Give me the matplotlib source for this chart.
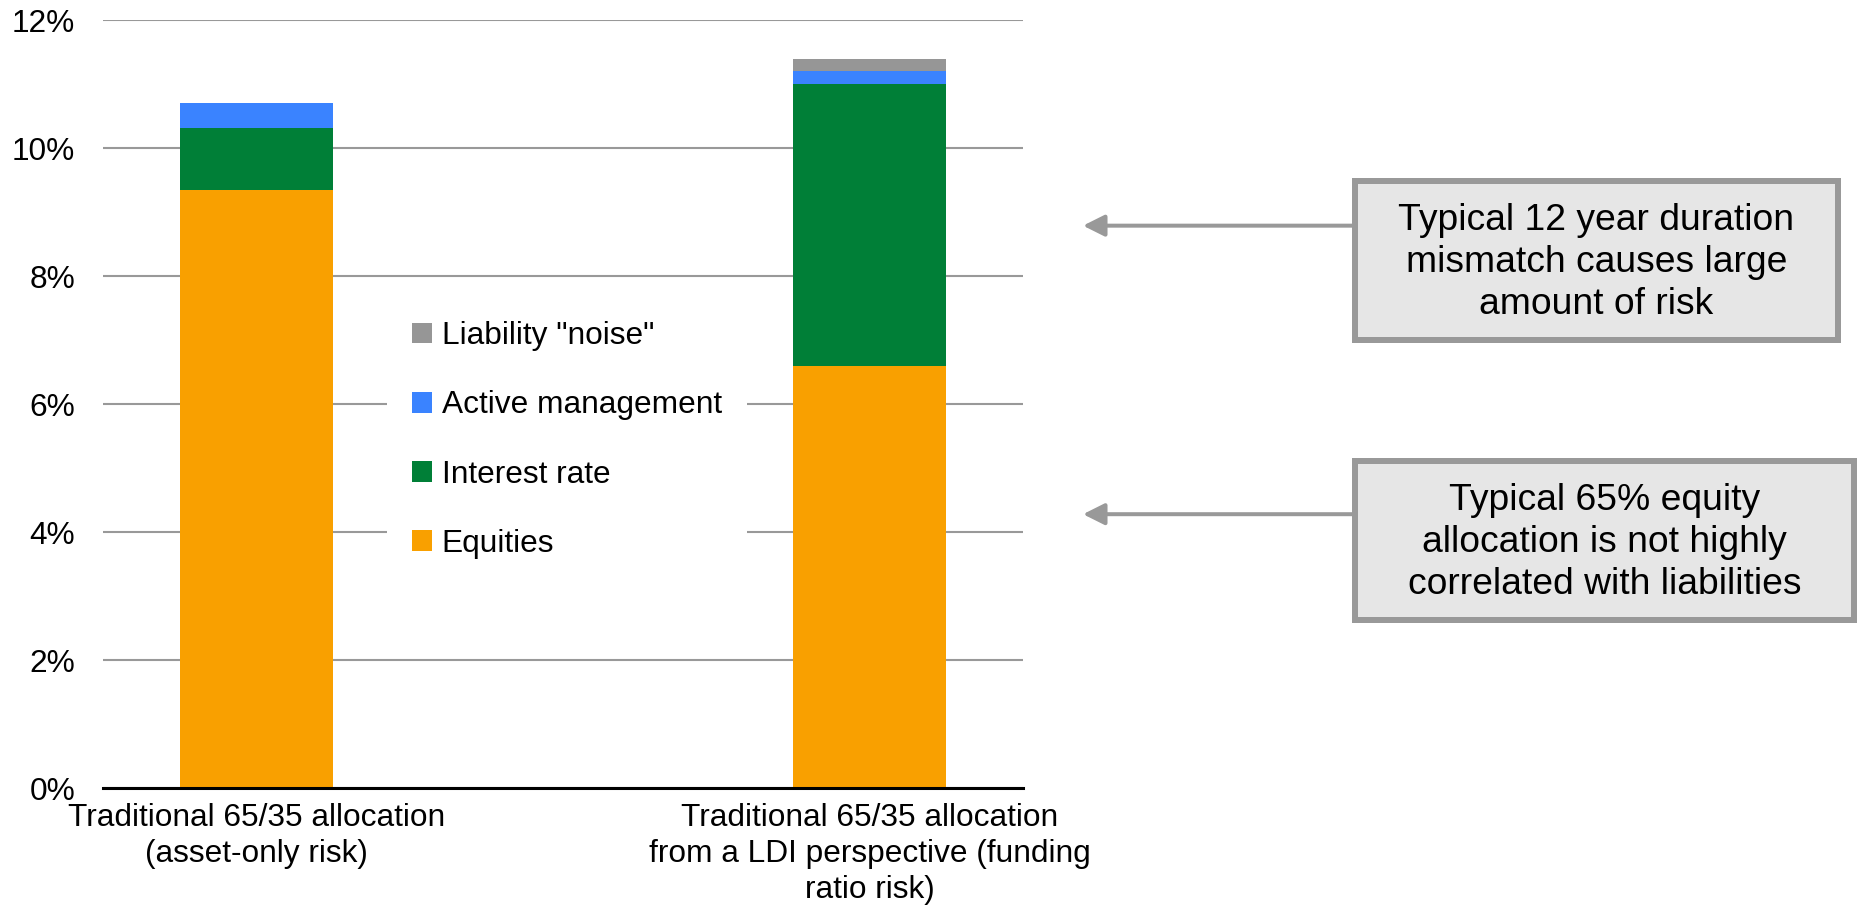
import matplotlib
matplotlib.use("Agg")
import matplotlib.pyplot as plt
from matplotlib.patches import Rectangle, FancyArrowPatch, ArrowStyle
import numpy as np

plt.rcParams['font.family'] = ['Liberation Sans', 'DejaVu Sans']

# ---- data -------------------------------------------------------------
categories = [
    "Traditional 65/35 allocation\n(asset-only risk)",
    "Traditional 65/35 allocation\nfrom a LDI perspective (funding\nratio risk)",
]
equities = [9.35, 6.60]
interest_rate = [0.97, 4.41]
active_management = [0.39, 0.19]
liability_noise = [0.00, 0.19]

series_names = ["Equities", "Interest rate", "Active management", 'Liability "noise"']
series_colors = ["#F9A000", "#007F37", "#3A83FF", "#969696"]

y_ticks = [0, 2, 4, 6, 8, 10, 12]
y_tick_labels = ["0%", "2%", "4%", "6%", "8%", "10%", "12%"]

notes = [
    "Typical 12 year duration\nmismatch causes large\namount of risk",
    "Typical 65% equity\nallocation is not highly\ncorrelated with liabilities",
]
note_targets = [8.79, 4.28]   # risk level (%) each note points at

# ---- figure -----------------------------------------------------------
W, H = 1861, 907
fig = plt.figure(figsize=(W / 100, H / 100), dpi=100)


def fx(px):
    return px / W


def fy(py):
    return 1 - py / H


ax = fig.add_axes([fx(103), fy(788), fx(1023) - fx(103), fy(20.3) - fy(788)])

x = np.arange(len(categories))
layers = [equities, interest_rate, active_management, liability_noise]
bottom = np.zeros(len(categories))
handles = []
for vals, name, col in zip(layers, series_names, series_colors):
    b = ax.bar(x, vals, width=0.25, bottom=bottom, color=col, label=name,
               zorder=3, linewidth=0)
    handles.append(b)
    bottom = bottom + np.array(vals)

ax.set_xlim(-0.25, 1.25)
ax.set_ylim(0, 12)
ax.set_yticks(y_ticks)
ax.set_yticklabels(y_tick_labels)
ax.set_xticks(x)
ax.set_xticklabels(categories, linespacing=1.26)

ax.grid(axis="y", color="#999999", linewidth=1.5, zorder=0)
ax.set_axisbelow(True)
for s in ["top", "right", "left"]:
    ax.spines[s].set_visible(False)
ax.spines["bottom"].set_color("black")
ax.spines["bottom"].set_linewidth(2.2)
ax.spines["bottom"].set_zorder(4)
ax.tick_params(axis="y", length=0, pad=20, labelsize=22.8, labelcolor="black")
ax.tick_params(axis="x", length=0, pad=11, labelsize=22.8, labelcolor="black")

leg = ax.legend(handles[::-1], series_names[::-1],
                loc="center left",
                bbox_to_anchor=(fx(387), fy(440)),
                bbox_transform=fig.transFigure,
                fontsize=22.8, frameon=True, facecolor="white",
                edgecolor="none", framealpha=1, fancybox=False,
                handlelength=0.63, handleheight=0.63, handletextpad=0.3,
                labelspacing=1.24, borderpad=0.8, borderaxespad=0)
leg.set_zorder(5)

# ---- annotation boxes and arrows -------------------------------------
boxes = [(1352, 178, 1841, 343), (1352, 458, 1857, 623)]
lw_px = 6
for text, (x0, y0, x1, y1), target in zip(notes, boxes, note_targets):
    h = lw_px / 2
    fig.add_artist(Rectangle((fx(x0 + h), fy(y1 - h)),
                             fx(x1 - x0 - lw_px), (y1 - y0 - lw_px) / H,
                             transform=fig.transFigure, facecolor="#E6E6E6",
                             edgecolor="#999999", linewidth=lw_px * 0.72,
                             zorder=2))
    fig.text(fx((x0 + x1) / 2), fy((y0 + y1) / 2 + 2), text,
             ha="center", va="center", fontsize=26.8, linespacing=1.25,
             color="black", zorder=3)
    # arrow tip height follows the data value through the axes scale
    tip_disp = ax.transData.transform((0, target))
    ty = tip_disp[1] / H
    arrow = FancyArrowPatch((fx(x0 + 1), ty), (fx(1083), ty),
                            transform=fig.transFigure,
                            arrowstyle=ArrowStyle("-|>", head_length=13,
                                                  head_width=6.5),
                            mutation_scale=1, linewidth=4 * 0.72,
                            color="#999999", shrinkA=0, shrinkB=0, zorder=1)
    fig.add_artist(arrow)

fig.savefig("out.png", dpi=100)
